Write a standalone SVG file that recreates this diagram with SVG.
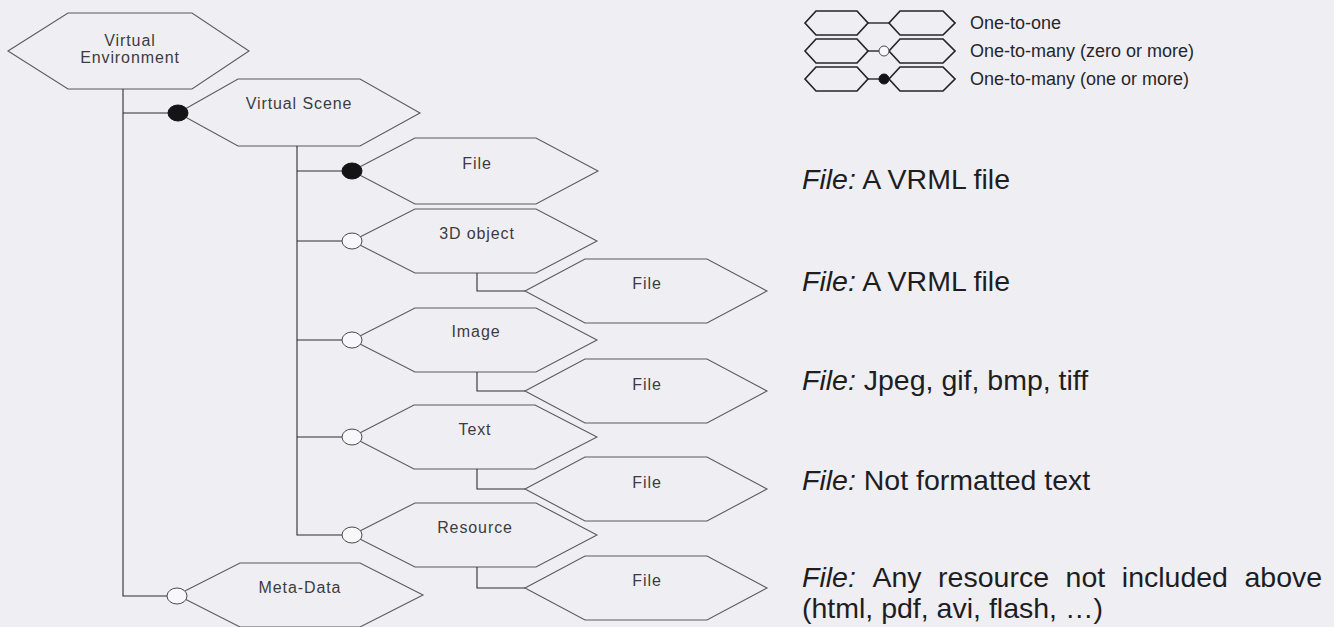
<svg xmlns="http://www.w3.org/2000/svg" width="1334" height="627" viewBox="0 0 1334 627">
  <style>
    .hex { fill: none; stroke: #5a5a5e; stroke-width: 1.1; }
    .lhex { fill: none; stroke: #26262a; stroke-width: 1.7; }
    .wire { fill: none; stroke: #2e2e32; stroke-width: 1.1; }
    .lwire { fill: none; stroke: #26262a; stroke-width: 1.4; }
    .one { fill: #141416; stroke: #141416; stroke-width: 1; }
    .zero { fill: #f8f8fa; stroke: #4a4a4e; stroke-width: 1; }
    .lbl { font-family: "Liberation Sans", Arial, sans-serif; font-size: 16px; letter-spacing: 0.9px; fill: #3c3c40; text-anchor: middle; }
    .leg { font-family: "Liberation Sans", Arial, sans-serif; font-size: 18px; fill: #26262a; }
    .note { font-family: "Liberation Sans", Arial, sans-serif; font-size: 28.5px; fill: #1e1e22; }
    .note .it { font-style: italic; }
  </style>
  <defs>
    <ellipse id="card" cx="0" cy="0" rx="10" ry="8"/>
    <ellipse id="lcard" cx="0" cy="0" rx="5" ry="5"/>
  </defs>

  <rect width="1334" height="627" fill="#efeff3"/>

  <!-- legend -->
  <g id="legend">
    <polygon class="lhex" points="805,23 816,11 857,11 868,23 857,35 816,35"/>
    <polygon class="lhex" points="889,23 900,11 943,11 955,23 943,35 900,35"/>
    <line class="lwire" x1="868" y1="23" x2="889" y2="23"/>
    <text class="leg" x="970" y="29">One-to-one</text>

    <polygon class="lhex" points="805,51 816,39 857,39 868,51 857,63 816,63"/>
    <polygon class="lhex" points="889,51 900,39 943,39 955,51 943,63 900,63"/>
    <line class="lwire" x1="868" y1="51" x2="884" y2="51"/>
    <use href="#lcard" x="884" y="51" class="zero"/>
    <text class="leg" x="970" y="57">One-to-many (zero or more)</text>

    <polygon class="lhex" points="805,79 816,67 857,67 868,79 857,91 816,91"/>
    <polygon class="lhex" points="889,79 900,67 943,67 955,79 943,91 900,91"/>
    <line class="lwire" x1="868" y1="79" x2="884" y2="79"/>
    <use href="#lcard" x="884" y="79" class="one"/>
    <text class="leg" x="970" y="85">One-to-many (one or more)</text>
  </g>

  <!-- nodes -->
  <g id="virtual-environment">
    <polygon class="hex" points="8,51 68,13 192,13 249,51 192,89 68,89"/>
    <text class="lbl" x="130" y="46">Virtual</text>
    <text class="lbl" x="130" y="63">Environment</text>
  </g>
  <g id="virtual-scene">
    <polygon class="hex" points="178,113 238,79 360,79 420,113 360,146 238,146"/>
    <text class="lbl" x="299" y="109">Virtual Scene</text>
  </g>
  <g id="scene-file">
    <polygon class="hex" points="352,171 415,138 536,138 598,171 536,204 415,204"/>
    <text class="lbl" x="477" y="169">File</text>
  </g>
  <g id="object3d">
    <polygon class="hex" points="352,241 415,209 536,209 597,241 536,273 415,273"/>
    <text class="lbl" x="477" y="239">3D object</text>
  </g>
  <g id="object3d-file">
    <polygon class="hex" points="525,291 585,259 707,259 767,291 707,323 585,323"/>
    <text class="lbl" x="647" y="289">File</text>
  </g>
  <g id="image">
    <polygon class="hex" points="352,340 415,308 536,308 597,340 536,372 415,372"/>
    <text class="lbl" x="476" y="337">Image</text>
  </g>
  <g id="image-file">
    <polygon class="hex" points="525,391 585,359 707,359 767,391 707,423 585,423"/>
    <text class="lbl" x="647" y="390">File</text>
  </g>
  <g id="text">
    <polygon class="hex" points="352,437 414,405 535,405 597,437 535,469 414,469"/>
    <text class="lbl" x="475" y="435">Text</text>
  </g>
  <g id="text-file">
    <polygon class="hex" points="525,489 585,457 707,457 767,489 707,521 585,521"/>
    <text class="lbl" x="647" y="488">File</text>
  </g>
  <g id="resource">
    <polygon class="hex" points="352,535 415,503 536,503 597,535 536,567 415,567"/>
    <text class="lbl" x="475" y="533">Resource</text>
  </g>
  <g id="resource-file">
    <polygon class="hex" points="525,588 585,556 707,556 767,588 707,620 585,620"/>
    <text class="lbl" x="647" y="586">File</text>
  </g>
  <g id="meta-data">
    <polygon class="hex" points="177,595 240,563 360,563 423,595 360,627 240,627"/>
    <text class="lbl" x="300" y="593">Meta-Data</text>
  </g>

  <!-- connectors -->
  <g id="connectors">
    <path class="wire" d="M123,89 V596 H177 M123,113 H178"/>
    <path class="wire" d="M297,146 V535 H352 M297,171 H352 M297,241 H352 M297,340 H352 M297,437 H352"/>
    <path class="wire" d="M477,273 V291 H525 M477,372 V391 H525 M477,469 V489 H525 M477,567 V588 H525"/>
    <use href="#card" x="178" y="113" class="one"/>
    <use href="#card" x="352" y="171" class="one"/>
    <use href="#card" x="352" y="241" class="zero"/>
    <use href="#card" x="352" y="340" class="zero"/>
    <use href="#card" x="352" y="437" class="zero"/>
    <use href="#card" x="352" y="535" class="zero"/>
    <use href="#card" x="177" y="596" class="zero"/>
  </g>

  <!-- descriptions of the file kinds -->
  <g id="notes" class="note">
    <text x="802" y="189"><tspan class="it">File:</tspan> A VRML file</text>
    <text x="802" y="291"><tspan class="it">File:</tspan> A VRML file</text>
    <text x="802" y="390"><tspan class="it">File:</tspan> Jpeg, gif, bmp, tiff</text>
    <text x="802" y="490"><tspan class="it">File:</tspan> Not formatted text</text>
    <text y="587"><tspan class="it" x="802">File:</tspan><tspan x="872.4">Any</tspan><tspan x="938.1">resource</tspan><tspan x="1065.6">not</tspan><tspan x="1121.8">included</tspan><tspan x="1244.5">above</tspan></text>
    <text x="802" y="618">(html, pdf, avi, flash, …)</text>
  </g>
</svg>
